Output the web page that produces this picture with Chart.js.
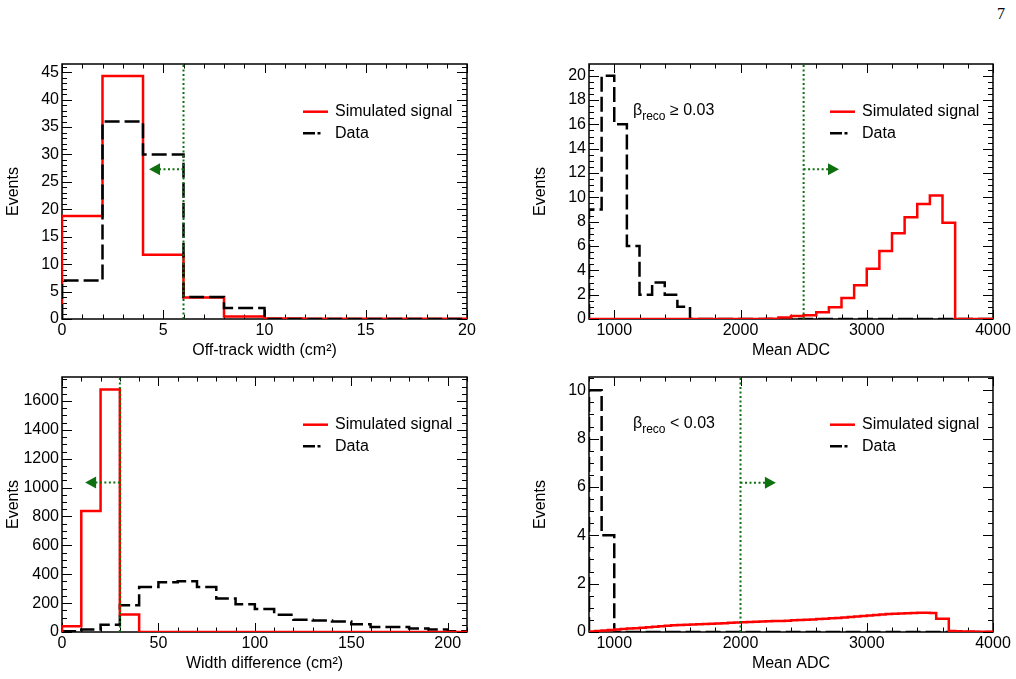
<!DOCTYPE html>
<html><head><meta charset="utf-8">
<script src="https://cdn.jsdelivr.net/npm/chart.js@4/dist/chart.umd.min.js"></script>
<style>
html,body{margin:0;padding:0;background:#fff;width:1016px;height:679px;overflow:hidden;}
canvas{position:absolute;}
#pg{position:absolute;left:997px;top:5px;font:16px "Liberation Serif",serif;color:#000;}
</style></head><body>
<div id="pg">7</div>
<canvas id="c1" width="490" height="360" style="left:0;top:0"></canvas>
<canvas id="c2" width="489" height="360" style="left:527px;top:0"></canvas>
<canvas id="c3" width="490" height="319" style="left:0;top:360px"></canvas>
<canvas id="c4" width="489" height="319" style="left:527px;top:360px"></canvas>
<script>
// ---------- data ----------
const seriesNames = ['Simulated signal', 'Data'];

// Panel 1: off-track width (bins of 2 cm^2)
const offTrackEdges = [0, 2, 4, 6, 8, 10, 12, 14, 16, 18, 20];
const offTrackSignal = [18.8, 44.3, 11.7, 3.9, 0.45, 0.08, 0.05, 0.04, 0.03, 0.03];
const offTrackData = [7, 36, 30, 4, 2, 0, 0, 0, 0, 0];
const offTrackXTicks = [0, 5, 10, 15, 20];
const offTrackYTicks = [0, 5, 10, 15, 20, 25, 30, 35, 40, 45];

// Panel 2: mean ADC, beta_reco >= 0.03 (bins of 100 from 800)
const adcHighSignal = [0, 0, 0, 0, 0, 0, 0, 0, 0, 0, 0, 0, 0, 0, 0.02,
  0.12, 0.25, 0.3, 0.55, 0.96, 1.73, 2.77, 4.14, 5.59, 7.04, 8.36, 9.45, 10.16, 7.92, 0, 0, 0];
const adcHighData = [9, 20, 16, 6, 2, 3, 2, 1, 0, 0, 0, 0, 0, 0, 0, 0,
  0, 0, 0, 0, 0, 0, 0, 0, 0, 0, 0, 0, 0, 0, 0, 0];
const adcXTicks = [1000, 2000, 3000, 4000];
const adcHighYTicks = [0, 2, 4, 6, 8, 10, 12, 14, 16, 18, 20];

// Panel 3: width difference (bins of 10 cm^2)
const widthDiffSignal = [40, 838, 1680, 122, 0, 0, 0, 0, 0, 0, 0, 0, 0, 0, 0, 0, 0, 0, 0, 0, 0];
const widthDiffData = [6, 18, 50, 186, 311, 345, 352, 311, 232, 193, 159, 120, 85, 80, 73, 53, 35, 35, 25, 17, 6];
const widthDiffXTicks = [0, 50, 100, 150, 200];
const widthDiffYTicks = [0, 200, 400, 600, 800, 1000, 1200, 1400, 1600];

// Panel 4: mean ADC, beta_reco < 0.03 (signal bins of 50, data bins of 100, from 800)
const adcLowSignal = [0.02, 0.04, 0.06, 0.08, 0.10, 0.12, 0.14, 0.16, 0.18, 0.20, 0.22, 0.24, 0.26, 0.28,
  0.29, 0.30, 0.31, 0.32, 0.33, 0.34, 0.35, 0.36, 0.38, 0.39,
  0.40, 0.41, 0.42, 0.43, 0.44, 0.45, 0.46, 0.47, 0.49, 0.50,
  0.51, 0.52, 0.54, 0.55, 0.57, 0.58, 0.60, 0.62, 0.64, 0.66,
  0.68, 0.70, 0.72, 0.74, 0.75, 0.77, 0.78, 0.79, 0.80, 0.80,
  0.79, 0.55, 0.55, 0.04, 0.03, 0.02, 0.02, 0.01, 0.01, 0.01];
const adcLowData = [10, 4, 0, 0, 0, 0, 0, 0, 0, 0, 0, 0, 0, 0, 0, 0,
  0, 0, 0, 0, 0, 0, 0, 0, 0, 0, 0, 0, 0, 0, 0, 0];
const adcLowYTicks = [0, 2, 4, 6, 8, 10];

// Selection cuts (value, arrow height, arrow tip)
const cutValues = [6, 2500, 30, 2000];
const cutArrowY = [27.3, 12.3, 1035, 6.17];
const cutArrowTip = [4.3, 2780, 12, 2280];

const notes = [null, ['β', 'reco', ' ≥ 0.03'], null, ['β', 'reco', ' < 0.03']];

// ---------- helpers ----------
function binEdges(lo, width, n) { const e = []; for (let i = 0; i <= n; i++) e.push(lo + width * i); return e; }
function histPoints(edges, vals) {
  const pts = [{x: edges[0], y: 0}];
  for (let i = 0; i < vals.length; i++) pts.push({x: edges[i], y: vals[i]});
  pts.push({x: edges[edges.length - 1], y: vals[vals.length - 1]});
  return pts;
}
function multiples(min, max, step) {
  const out = []; const k0 = Math.ceil(min / step - 1e-9), k1 = Math.floor(max / step + 1e-9);
  for (let k = k0; k <= k1; k++) out.push(+(k * step).toFixed(6));
  return out;
}
const FONT = 'Liberation Sans, Arial, sans-serif';
const FS = 16;
const RED = '#ff0000', BLACK = '#000000', GREEN = '#0e700e';
const DASH = [15, 5];
const LEGEND_DASH = [12, 2.5, 3, 20];

const rootPlugin = {
  id: 'rootStyle',
  beforeDatasetsDraw(chart, _a, o) {
    const {ctx, chartArea: a, scales: {x, y}} = chart;
    ctx.save();
    ctx.strokeStyle = '#000';
    ctx.lineWidth = 1;
    ctx.beginPath();
    for (const v of multiples(x.min, x.max, o.xMinor)) {
      const major = o.xTicks.some(t => Math.abs(t - v) < 1e-6);
      const px = Math.round(x.getPixelForValue(v)) + 0.5;
      const len = major ? 9 : 4.5;
      ctx.moveTo(px, a.bottom); ctx.lineTo(px, a.bottom - len);
      ctx.moveTo(px, a.top); ctx.lineTo(px, a.top + len);
    }
    for (const v of multiples(y.min, y.max, o.yMinor)) {
      const major = o.yTicks.some(t => Math.abs(t - v) < 1e-6);
      const py = Math.round(y.getPixelForValue(v)) + 0.5;
      const len = major ? 10 : 5;
      ctx.moveTo(a.left, py); ctx.lineTo(a.left + len, py);
      ctx.moveTo(a.right, py); ctx.lineTo(a.right - len, py);
    }
    ctx.stroke();
    ctx.lineWidth = 1.5;
    ctx.strokeRect(a.left, a.top, a.right - a.left, a.bottom - a.top);
    ctx.restore();
  },
  afterDatasetsDraw(chart, _a, o) {
    const {ctx, chartArea: a, scales: {x, y}} = chart;
    const i = o.index;
    ctx.save();
    // cut line
    const cx = x.getPixelForValue(cutValues[i]);
    const ay = y.getPixelForValue(cutArrowY[i]);
    const tip = x.getPixelForValue(cutArrowTip[i]);
    const dir = Math.sign(tip - cx);
    ctx.strokeStyle = GREEN; ctx.fillStyle = GREEN;
    ctx.lineWidth = 2; ctx.setLineDash([2, 2.5]);
    ctx.beginPath(); ctx.moveTo(cx, a.bottom); ctx.lineTo(cx, a.top); ctx.stroke();
    ctx.beginPath(); ctx.moveTo(cx, ay); ctx.lineTo(tip - dir * 10, ay); ctx.stroke();
    ctx.setLineDash([]);
    ctx.beginPath(); ctx.moveTo(tip, ay); ctx.lineTo(tip - dir * 11, ay - 6); ctx.lineTo(tip - dir * 11, ay + 6); ctx.closePath(); ctx.fill();
    // legend
    chart.data.datasets.forEach((ds, k) => {
      const ly = a.top + 47.7 + k * 21.6;
      ctx.strokeStyle = ds.borderColor; ctx.lineWidth = 2.5;
      ctx.setLineDash(ds.borderDash ? LEGEND_DASH : []);
      ctx.beginPath(); ctx.moveTo(a.left + 241, ly); ctx.lineTo(a.left + 266, ly); ctx.stroke();
      ctx.setLineDash([]);
      ctx.fillStyle = '#000'; ctx.font = FS + 'px ' + FONT; ctx.textBaseline = 'middle'; ctx.textAlign = 'left';
      ctx.fillText(ds.label, a.left + 273, ly);
    });
    // note
    const n = notes[i];
    if (n) {
      let tx = a.left + 44; const by = a.top + 50.5;
      ctx.fillStyle = '#000'; ctx.textBaseline = 'alphabetic'; ctx.textAlign = 'left';
      ctx.font = FS + 'px ' + FONT; ctx.fillText(n[0], tx, by); tx += ctx.measureText(n[0]).width;
      ctx.font = '12px ' + FONT; ctx.fillText(n[1], tx, by + 5); tx += ctx.measureText(n[1]).width;
      ctx.font = FS + 'px ' + FONT; ctx.fillText(n[2], tx, by);
    }
    ctx.restore();
  }
};

const adcEdges100 = binEdges(800, 100, 32);
const adcEdges50 = binEdges(800, 50, 64);
const panels = [
  {id: 'c1', eS: offTrackEdges, s: offTrackSignal, eD: offTrackEdges, d: offTrackData, xmin: 0, xmax: 20, ymax: 46.5,
   xTicks: offTrackXTicks, yTicks: offTrackYTicks, xMinor: 1, yMinor: 1, xTitle: 'Off-track width (cm²)', redTop: false, top: true},
  {id: 'c2', eS: adcEdges100, s: adcHighSignal, eD: adcEdges100, d: adcHighData, xmin: 800, xmax: 4000, ymax: 20.96,
   xTicks: adcXTicks, yTicks: adcHighYTicks, xMinor: 200, yMinor: 0.5, xTitle: 'Mean ADC', redTop: true, top: true},
  {id: 'c3', eS: binEdges(0, 10, 21), s: widthDiffSignal, eD: binEdges(0, 10, 21), d: widthDiffData, xmin: 0, xmax: 210, ymax: 1766,
   xTicks: widthDiffXTicks, yTicks: widthDiffYTicks, xMinor: 10, yMinor: 50, xTitle: 'Width difference (cm²)', redTop: true, top: false},
  {id: 'c4', eS: adcEdges50, s: adcLowSignal, eD: adcEdges100, d: adcLowData, xmin: 800, xmax: 4000, ymax: 10.55,
   xTicks: adcXTicks, yTicks: adcLowYTicks, xMinor: 200, yMinor: 0.5, xTitle: 'Mean ADC', redTop: true, top: false}
];

panels.forEach((p, i) => {
  const font = {family: FONT, size: FS};
  new Chart(document.getElementById(p.id), {
    type: 'line',
    data: {datasets: [
      {label: seriesNames[0], data: histPoints(p.eS, p.s), borderColor: RED, borderWidth: 2.5, stepped: 'before',
       pointRadius: 0, fill: false, order: p.redTop ? 0 : 1},
      {label: seriesNames[1], data: histPoints(p.eD, p.d), borderColor: BLACK, borderWidth: 2.5, borderDash: DASH, stepped: 'before',
       pointRadius: 0, fill: false, order: p.redTop ? 1 : 0}
    ]},
    options: {
      responsive: false, animation: false, parsing: false, normalized: true,
      layout: {padding: {left: 0, right: 23, top: p.top ? 64 : 17, bottom: 0}},
      plugins: {legend: {display: false}, tooltip: {enabled: false},
        rootStyle: {index: i, xTicks: p.xTicks, yTicks: p.yTicks, xMinor: p.xMinor, yMinor: p.yMinor}},
      scales: {
        x: {type: 'linear', min: p.xmin, max: p.xmax,
          afterBuildTicks: s => { s.ticks = p.xTicks.map(v => ({value: v})); },
          afterFit: s => { s.height = p.top ? 41 : 47; },
          grid: {display: false, drawTicks: false}, border: {display: false},
          ticks: {font, color: '#000', padding: 2, maxRotation: 0, autoSkip: false, callback: v => String(v)},
          title: {display: true, text: p.xTitle, font, color: '#000', padding: {top: 0, bottom: p.top ? 0 : 6}}},
        y: {type: 'linear', min: 0, max: p.ymax,
          afterBuildTicks: s => { s.ticks = p.yTicks.map(v => ({value: v})); },
          afterFit: s => { s.width = 62; },
          grid: {display: false, drawTicks: false}, border: {display: false},
          ticks: {font, color: '#000', padding: 3, autoSkip: false, callback: v => String(v)},
          title: {display: true, text: 'Events', font, color: '#000', padding: {top: 3.5, bottom: 0}}}
      }
    },
    plugins: [rootPlugin]
  });
});
</script>
</body></html>
